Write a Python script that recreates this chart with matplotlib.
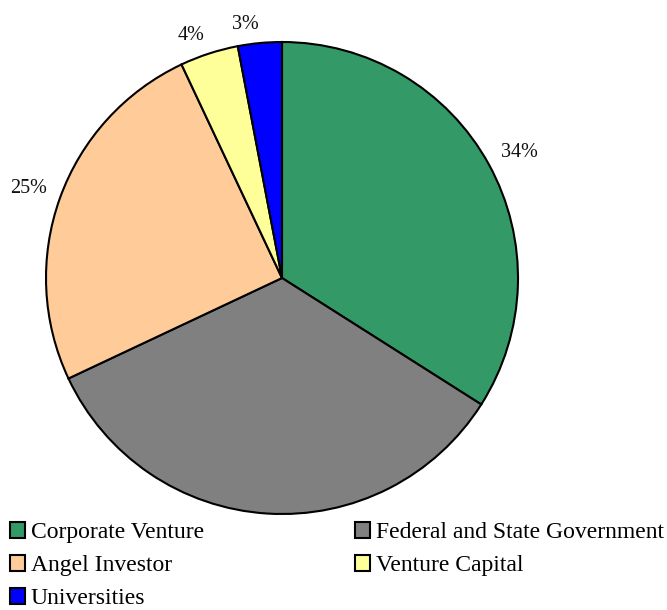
import numpy as np
import matplotlib
matplotlib.use("Agg")
import matplotlib.pyplot as plt
from matplotlib.patches import Patch

plt.rcParams['font.family'] = ['Liberation Serif', 'DejaVu Serif']

categories = ["Corporate Venture", "Federal and State Government",
              "Angel Investor", "Venture Capital", "Universities"]
shares = [34, 34, 25, 4, 3]
colors = ["#339966", "#808080", "#FFCC99", "#FFFF99", "#0000FF"]
# percentage labels; the government share is left unlabelled
shown = [True, False, True, True, True]

fig = plt.figure(figsize=(6.67, 6.10), dpi=100)
W, H = 667, 610
cx, cy, r = 282, 278, 236
ax = fig.add_axes([(cx - r) / W, (H - cy - r) / H, 2 * r / W, 2 * r / H])

labels = [f"{v}%" if s else "" for v, s in zip(shares, shown)]
wedges, texts = ax.pie(shares, colors=colors, startangle=90, counterclock=False,
                       labels=labels, labeldistance=1.06,
                       wedgeprops=dict(edgecolor="black", linewidth=1.5),
                       textprops=dict(fontsize=14.5, color="#111111"))
for w in wedges:
    w.set_clip_on(False)
# anchor each label by its inner corner, so the text sits just off the rim
for t in texts:
    x, y = t.get_position()
    t.set_horizontalalignment("left" if x >= 0 else "right")
    t.set_verticalalignment("baseline" if y >= 0 else "top")
ax.set_xlim(-1, 1)
ax.set_ylim(-1, 1)
ax.set_aspect("equal")

handles = [Patch(facecolor=c, edgecolor="black", linewidth=1.5) for c in colors]
order = [0, 2, 4, 1, 3]
fig.legend([handles[i] for i in order], [categories[i] for i in order],
           ncol=2, loc="upper left", bbox_to_anchor=(0.0, 1 - 512 / H),
           frameon=False, fontsize=17, handlelength=0.64, handleheight=0.64,
           handletextpad=0.25, columnspacing=6.4, labelspacing=0.51,
           borderaxespad=0.0, borderpad=0.42)

fig.savefig("out.png", dpi=100)
